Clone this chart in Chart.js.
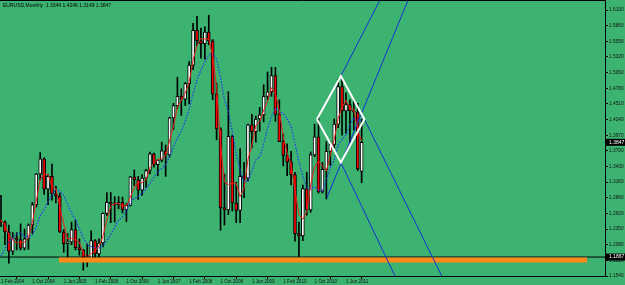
<!DOCTYPE html>
<html>
<head>
<meta charset="utf-8">
<script src="https://cdn.jsdelivr.net/npm/chart.js"></script>
<style>
  html, body { margin: 0; padding: 0; background: #3cb371; }
</style>
</head>
<body>
<canvas id="myChart" width="625" height="285"></canvas>
<script>
// EURUSD monthly bars, index 0 = Feb 2004 ... index 92 = Oct 2011
const opens = [
  1.2480,1.2470,1.2300,1.1970,1.2200,1.2170,1.2020,1.2180,1.2420,1.2770,1.3300,
  1.3560,1.3040,1.3260,1.2960,1.2920,1.2300,1.2100,1.2130,1.2340,1.2030,1.1990,1.1790,
  1.1840,1.2150,1.1920,1.2110,1.2620,1.2810,1.2790,1.2770,1.2810,1.2680,1.2760,1.3250,
  1.3200,1.3020,1.3230,1.3360,1.3650,1.3460,1.3540,1.3700,1.3630,1.4270,1.4480,1.4640,
  1.4590,1.4860,1.5180,1.5780,1.5600,1.5550,1.5750,1.5600,1.4680,1.4080,1.2720,1.2680,
  1.3950,1.2800,1.2670,1.3260,1.3230,1.4150,1.4030,1.4250,1.4320,1.4640,1.4720,1.5000,
  1.4330,1.3860,1.3620,1.3510,1.3290,1.2270,1.2230,1.3050,1.2680,1.3630,1.3940,1.2990,
  1.3380,1.3690,1.3810,1.4160,1.4810,1.4390,1.4500,1.4390,1.4370,1.3344
];
const highs = [
  1.2930,1.2490,1.2420,1.2290,1.2290,1.2440,1.2350,1.2440,1.2810,1.3310,1.3670,
  1.3580,1.3290,1.3470,1.3090,1.2970,1.2340,1.2270,1.2470,1.2500,1.2180,1.2000,1.2090,
  1.2320,1.2170,1.2180,1.2630,1.2980,1.2980,1.2910,1.2910,1.2900,1.2790,1.3260,1.3370,
  1.3260,1.3290,1.3380,1.3680,1.3660,1.3550,1.3850,1.3800,1.4280,1.4520,1.4970,1.4770,
  1.4880,1.5240,1.5900,1.6020,1.5820,1.5840,1.6040,1.5620,1.4870,1.4100,1.3300,1.4720,
  1.3970,1.3160,1.3740,1.3500,1.4160,1.4330,1.4300,1.4450,1.4840,1.5060,1.5140,1.5140,
  1.4580,1.3990,1.3820,1.3690,1.3330,1.2470,1.3110,1.3330,1.3680,1.4160,1.4280,1.3500,
  1.3860,1.3860,1.4250,1.4940,1.4940,1.4700,1.4580,1.4550,1.4520,1.4246
];
const lows = [
  1.2390,1.2080,1.1760,1.1910,1.1990,1.1990,1.1990,1.2000,1.2270,1.2730,1.3200,
  1.2950,1.2770,1.2850,1.2800,1.2290,1.1950,1.1860,1.2080,1.1990,1.1900,1.1640,1.1700,
  1.1800,1.1820,1.1860,1.2040,1.2580,1.2460,1.2470,1.2700,1.2630,1.2480,1.2750,1.3100,
  1.2860,1.2930,1.3070,1.3300,1.3420,1.3270,1.3510,1.3260,1.3590,1.4070,1.4430,1.4310,
  1.4480,1.4510,1.5100,1.5520,1.5300,1.5280,1.5530,1.4580,1.3890,1.2330,1.2420,1.2600,
  1.2660,1.2460,1.2460,1.2890,1.3180,1.3750,1.3850,1.4040,1.4200,1.4580,1.4640,1.4210,
  1.3860,1.3440,1.3270,1.3110,1.2140,1.1880,1.2150,1.2590,1.2640,1.3600,1.2970,1.2970,
  1.2870,1.3450,1.3750,1.4100,1.3970,1.4000,1.3840,1.4060,1.3360,1.3149
];
const closes = [
  1.2470,1.2300,1.1970,1.2200,1.2170,1.2020,1.2180,1.2420,1.2770,1.3300,1.3560,
  1.3040,1.3260,1.2960,1.2920,1.2300,1.2100,1.2130,1.2340,1.2030,1.1990,1.1790,1.1840,
  1.2150,1.1920,1.2110,1.2620,1.2810,1.2790,1.2770,1.2810,1.2680,1.2760,1.3250,1.3200,
  1.3020,1.3230,1.3360,1.3650,1.3460,1.3540,1.3700,1.3630,1.4270,1.4480,1.4640,1.4590,
  1.4860,1.5180,1.5780,1.5600,1.5550,1.5750,1.5600,1.4680,1.4080,1.2720,1.2680,1.3950,
  1.2800,1.2670,1.3260,1.3230,1.4150,1.4030,1.4250,1.4320,1.4640,1.4720,1.5000,1.4330,
  1.3860,1.3620,1.3510,1.3290,1.2270,1.2230,1.3050,1.2680,1.3630,1.3940,1.2990,1.3380,
  1.3690,1.3810,1.4160,1.4810,1.4390,1.4500,1.4390,1.4370,1.3390,1.3847
];
// fast average (red) and slow average (blue dotted)
const fastMA = [
  1.251,1.242,1.225,1.216,1.211,1.213,1.212,1.221,1.246,1.283,1.321,
  1.330,1.329,1.309,1.305,1.273,1.244,1.218,1.219,1.217,1.212,1.194,1.187,
  1.193,1.197,1.206,1.222,1.251,1.274,1.279,1.279,1.275,1.275,1.290,1.307,
  1.316,1.315,1.320,1.341,1.349,1.355,1.357,1.362,1.387,1.413,1.446,1.457,
  1.470,1.488,1.527,1.552,1.564,1.563,1.563,1.534,1.479,1.383,1.316,1.312,
  1.314,1.314,1.291,1.305,1.355,1.380,1.414,1.420,1.440,1.456,1.479,1.468,
  1.440,1.394,1.366,1.347,1.302,1.260,1.252,1.265,1.312,1.342,1.352,1.344,
  1.335,1.363,1.389,1.426,1.445,1.457,1.443,1.442,1.405,1.387
];
const slowMA = [
  1.188,1.201,1.213,1.220,1.227,1.228,1.222,1.222,1.225,1.238,1.258,
  1.268,1.282,1.294,1.303,1.301,1.293,1.278,1.263,1.251,1.235,1.220,1.207,
  1.205,1.202,1.202,1.206,1.215,1.225,1.238,1.250,1.256,1.267,1.281,1.288,
  1.291,1.297,1.304,1.314,1.324,1.334,1.340,1.345,1.361,1.376,1.392,1.404,
  1.421,1.442,1.468,1.493,1.509,1.524,1.536,1.538,1.528,1.497,1.458,1.438,
  1.403,1.365,1.336,1.317,1.318,1.335,1.354,1.359,1.382,1.408,1.429,1.443,
  1.439,1.434,1.425,1.412,1.383,1.351,1.327,1.306,1.304,1.308,1.301,1.302,
  1.320,1.340,1.354,1.380,1.390,1.397,1.414,1.427,1.423,1.423
];

const tickPos = [0, 8, 16, 24, 32, 40, 48, 56, 64, 72, 80, 88];
const tickLabels = ['1 Feb 2004', '1 Oct 2004', '1 Jun 2005', '1 Feb 2006', '1 Oct 2006', '1 Jun 2007',
  '1 Feb 2008', '1 Oct 2008', '1 Jun 2009', '1 Feb 2010', '1 Oct 2010', '1 Jun 2011'];
const priceTicks = [1.6130, 1.5860, 1.5590, 1.5320, 1.5050, 1.4780, 1.4510, 1.4240, 1.3970,
  1.3700, 1.3430, 1.3160, 1.2890, 1.2620, 1.2350, 1.2080, 1.1810, 1.1540];

// drawn objects: [bar index, price]
const diamond = [[80.6, 1.4245], [86.7, 1.4991], [92.7, 1.4245], [86.7, 1.3498], [80.6, 1.4245]];
const trendLines = [
  [[86.7, 1.4991], [98.0, 1.6476]],
  [[83.1, 1.2886], [104.9, 1.6475]],
  [[86.7, 1.3498], [102.2, 1.1298]],
  [[92.7, 1.4245], [114.2, 1.1298]]
];
const supportLine = [[14.8, 1.1815], [149.5, 1.1815]];
const hLevel = 1.1867;

const xMin = -0.255, xMax = 154.08;
const yMin = 1.1540, yMax = 1.6303;
const title = 'EURUSD,Monthly  ' + [opens[92], highs[92], lows[92], closes[92]].map(v => v.toFixed(4)).join(' ');

const pts = a => a.map(p => ({x: p[0], y: p[1]}));
const lineSet = (data, color, width, order, extra) => Object.assign({
  type: 'line', data: data, borderColor: color, borderWidth: width, pointRadius: 0,
  tension: 0, fill: false, order: order
}, extra || {});

const datasets = [
  {
    type: 'bar', data: highs.map((h, i) => ({x: i, y: [lows[i], h]})),
    backgroundColor: '#000', barThickness: 1, grouped: false, order: 10
  },
  {
    type: 'bar', data: opens.map((o, i) => ({x: i, y: [o, closes[i]]})),
    backgroundColor: opens.map((o, i) => closes[i] >= o ? '#ffffff' : '#ff0000'),
    borderColor: '#000', borderWidth: 1, borderSkipped: false, minBarLength: 1,
    barThickness: 3, grouped: false, order: 9
  },
  lineSet(slowMA.map((v, i) => ({x: i, y: v})), '#1e3cf0', 1.2, 6, {borderDash: [1.5, 1.5]}),
  lineSet(fastMA.map((v, i) => ({x: i, y: v})), '#e8241a', 1, 5),
  lineSet([{x: xMin, y: hLevel}, {x: xMax, y: hLevel}], '#000', 1, 4),
  lineSet(pts(supportLine), '#ff8a1c', 5, 3),
  ...trendLines.map(t => lineSet(pts(t), '#1432d2', 1, 2)),
  lineSet(pts(diamond), '#ffffff', 2, 1)
];

const extras = {
  id: 'extras',
  beforeDraw(chart) {
    const c = chart.ctx;
    c.save();
    c.fillStyle = '#3cb371';
    c.fillRect(0, 0, chart.width, chart.height);
    c.restore();
  },
  afterDraw(chart) {
    const c = chart.ctx, a = chart.chartArea, y = chart.scales.y;
    c.save();
    c.strokeStyle = '#000';
    c.lineWidth = 1;
    c.beginPath();
    c.moveTo(a.left, a.top + 0.5);
    c.lineTo(a.right, a.top + 0.5);
    c.stroke();
    c.font = '5px "Liberation Sans"';
    c.textBaseline = 'middle';
    c.fillStyle = '#000';
    c.fillText(title, 3, 6);
    [closes[92], hLevel].forEach(p => {
      const py = y.getPixelForValue(p);
      c.fillStyle = '#000';
      c.fillRect(a.right + 1, py - 3.5, 19, 7);
      c.fillStyle = '#fff';
      c.fillText(p.toFixed(4), a.right + 4, py);
    });
    c.restore();
  }
};

new Chart(document.getElementById('myChart'), {
  type: 'bar',
  data: {datasets: datasets},
  options: {
    responsive: false,
    animation: false,
    events: [],
    layout: {padding: 0},
    plugins: {legend: {display: false}, tooltip: {enabled: false}},
    scales: {
      x: {
        type: 'linear', min: xMin, max: xMax, offset: false,
        afterBuildTicks: s => { s.ticks = tickPos.map(v => ({value: v})); },
        afterFit: s => { s.height = 9; s.paddingLeft = 0; s.paddingRight = 0; },
        ticks: {
          autoSkip: false, align: 'start', padding: 0, maxRotation: 0, color: '#111',
          font: {size: 4.6, family: 'Liberation Sans'},
          callback: (v, i) => tickLabels[i]
        },
        grid: {drawOnChartArea: false, tickLength: 3, color: '#000'},
        border: {color: '#000'}
      },
      y: {
        type: 'linear', position: 'right', min: yMin, max: yMax,
        afterBuildTicks: s => { s.ticks = priceTicks.map(v => ({value: v})); },
        afterFit: s => { s.width = 20; s.paddingTop = 0; s.paddingBottom = 0; },
        ticks: {
          autoSkip: false, padding: 1, color: '#111',
          font: {size: 4.8, family: 'Liberation Sans'},
          callback: v => v.toFixed(4)
        },
        grid: {drawOnChartArea: false, tickLength: 3, color: '#000'},
        border: {color: '#000'}
      }
    }
  },
  plugins: [extras]
});
</script>
</body>
</html>
